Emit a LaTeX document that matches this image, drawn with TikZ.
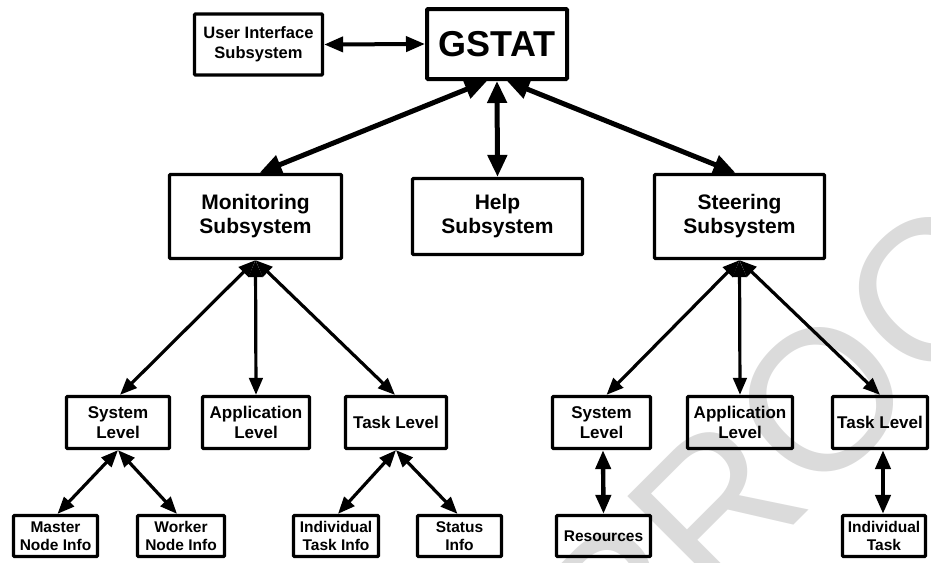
\documentclass[tikz,border=0pt]{standalone}
\usepackage{fontspec}
\setmainfont{Liberation Sans}
\usetikzlibrary{arrows.meta}
\tikzset{
  box/.style={draw, line width=3.3pt, rounded corners=1pt, inner sep=0pt, align=center, font=\bfseries},
  bigbox/.style={box, font=\fontsize{21}{24}\selectfont\bfseries},
  midbox/.style={box, font=\fontsize{17}{20}\selectfont\bfseries},
  lowbox/.style={box, font=\fontsize{15.5}{18.5}\selectfont\bfseries},
  bigarr/.style={line width=5pt, {Triangle[length=22pt,width=19pt]}-{Triangle[length=22pt,width=19pt]}},
  uiarr/.style={line width=4pt, {Triangle[length=19pt,width=15pt]}-{Triangle[length=19pt,width=15pt]}},
  midarr/.style={line width=3.2pt, {Triangle[length=17pt,width=13.5pt]}-{Triangle[length=17pt,width=13.5pt]}},
  vertarr/.style={line width=4.4pt, {Triangle[length=19pt,width=15pt]}-{Triangle[length=19pt,width=15pt]}},
}
\begin{document}
\begin{tikzpicture}[x=1pt,y=-1pt]
\useasboundingbox (0,0) rectangle (931,562);
\begin{scope}
\clip (0,0) rectangle (931,562);
\node[text=black!14, rotate=45, font=\fontsize{200}{200}\selectfont] (wm) at (822,400) {PROOF};
\end{scope}
% top
\node[box, minimum width=128pt, minimum height=61pt, font=\fontsize{16.5}{20}\selectfont\bfseries] (ui) at (258.5,44.5) {User Interface\\Subsystem};
\node[box, line width=4pt, minimum width=140pt, minimum height=70pt, font=\fontsize{36}{40}\selectfont\bfseries] (gstat) at (497,44) {GSTAT};
% subsystems
\node[bigbox, minimum width=172pt, minimum height=84pt] (mon) at (255.5,216.5) {Monitoring\\Subsystem};
\node[bigbox, minimum width=170pt, minimum height=76pt] (help) at (497.5,216.5) {Help\\Subsystem};
\node[bigbox, minimum width=170pt, minimum height=84pt] (steer) at (739.5,216.5) {Steering\\Subsystem};
% level 2
\node[midbox, minimum width=103pt, minimum height=52pt] (msys) at (118,422.5) {System\\Level};
\node[midbox, minimum width=107pt, minimum height=52pt] (mapp) at (256,422.5) {Application\\Level};
\node[midbox, minimum width=101pt, minimum height=52pt] (mtask) at (396,422.5) {Task Level};
\node[midbox, minimum width=98pt, minimum height=52pt] (ssys) at (601.5,422.5) {System\\Level};
\node[midbox, minimum width=105pt, minimum height=52pt] (sapp) at (740,422.5) {Application\\Level};
\node[midbox, minimum width=95pt, minimum height=52pt] (stask) at (880,422.5) {Task Level};
% level 3
\node[lowbox, minimum width=84pt, minimum height=41pt] (master) at (55.5,536) {Master\\Node Info};
\node[lowbox, minimum width=87pt, minimum height=41pt] (worker) at (181,536) {Worker\\Node Info};
\node[lowbox, minimum width=85pt, minimum height=41pt] (indiv) at (336,536) {Individual\\Task Info};
\node[lowbox, minimum width=84pt, minimum height=41pt] (status) at (459.5,536) {Status\\Info};
\node[lowbox, minimum width=94pt, minimum height=41pt] (res) at (603.5,536) {Resources};
\node[lowbox, minimum width=83pt, minimum height=41pt] (indtask) at (884,536) {Individual\\Task};
% arrows
\draw[uiarr] (ui.east) -- (gstat.west);
\draw[bigarr] ([xshift=-10pt]gstat.south) -- ([xshift=4pt]mon.north);
\draw[bigarr] (gstat.south) -- (help.north);
\draw[bigarr] ([xshift=10pt]gstat.south) -- ([xshift=-4pt]steer.north);
\draw[midarr] (mon.south) -- ([xshift=2pt]msys.north);
\draw[midarr] (mon.south) -- (mapp.north);
\draw[midarr] (mon.south) -- ([xshift=-1pt]mtask.north);
\draw[midarr] (steer.south) -- ([xshift=5pt]ssys.north);
\draw[midarr] (steer.south) -- (sapp.north);
\draw[midarr] (steer.south) -- (stask.north);
\draw[midarr] (msys.south) -- ([xshift=2pt]master.north);
\draw[midarr] (msys.south) -- ([xshift=-4pt]worker.north);
\draw[midarr] (mtask.south) -- ([xshift=2pt]indiv.north);
\draw[midarr] (mtask.south) -- ([xshift=-2pt]status.north);
\draw[vertarr] ([xshift=1.5pt]ssys.south) -- (res.north);
\draw[vertarr] ([xshift=3pt]stask.south) -- ([xshift=-1pt]indtask.north);
\end{tikzpicture}
\end{document}
